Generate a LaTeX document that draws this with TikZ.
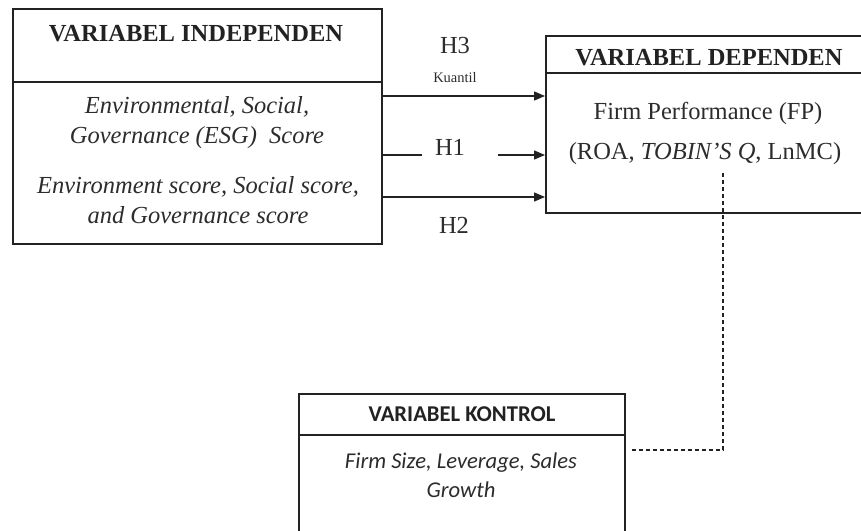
\documentclass[tikz,border=0pt]{standalone}
\usepackage{fontspec}
\setmainfont{Liberation Serif}
\newfontfamily\carlito{Carlito}
\usetikzlibrary{arrows.meta}
\definecolor{ink}{HTML}{222222}
\definecolor{txt}{HTML}{2c2c2c}
\begin{document}
\begin{tikzpicture}[x=1pt,y=-1pt,
  box/.style={draw=ink,line width=1.8pt,inner sep=0pt,anchor=north west},
  serif/.style={font=\fontsize{24.5}{30}\selectfont, text=txt, inner sep=0pt, align=center},
  serifit/.style={font=\fontsize{24.5}{30}\selectfont\itshape, text=txt, inner sep=0pt, align=center},
  sanst/.style={font=\carlito\fontsize{22.6}{29}\selectfont\bfseries, text=ink, inner sep=0pt},
  sansit/.style={font=\carlito\fontsize{22.6}{29}\selectfont\itshape, text=txt, inner sep=0pt, align=center},
  conn/.style={draw=ink,line width=1.3pt},
  arr/.style={conn,-{Triangle[length=11pt,width=9pt]}},
  ctrl/.style={draw=ink,line width=1.2pt,dash pattern=on 4pt off 3pt}]
\path[use as bounding box,clip] (0,0) rectangle (861,530);

% boxes
\node[box,minimum width=369pt,minimum height=73pt] (indh) at (12,8) {};
\node[box,minimum width=369pt,minimum height=162pt] (indb) at (12,81) {};
\node[box,minimum width=330pt,minimum height=37pt] (deph) at (545,35) {};
\node[box,minimum width=330pt,minimum height=140pt] (depb) at (545,72) {};
\node[box,minimum width=326pt,minimum height=41pt] (konh) at (298,393) {};
\node[box,minimum width=326pt,minimum height=130pt] (konb) at (298,434) {};

% texts
\node[serif,font=\fontsize{24.5}{30}\selectfont\bfseries,text=ink] (indt) at (196,34) {VARIABEL INDEPENDEN};
\node[serifit] (esg) at (197,123) {Environmental, Social,\\Governance (ESG)~~Score};
\node[serifit] (pil) at (198,200) {Environment score, Social score,\\and Governance score};

\node[serif,font=\fontsize{24.5}{30}\selectfont\bfseries,text=ink] (dept) at (709,58) {VARIABEL DEPENDEN};
\node[serif] (fp) at (708,113) {Firm Performance (FP)};
\node[serif] (roa) at (705,154) {(ROA, \textit{TOBIN'S Q}, LnMC)};

\node[sanst] (kont) at (462,414) {VARIABEL KONTROL};
\node[sansit] (kvar) at (461,475) {Firm Size, Leverage, Sales\\Growth};

% hypothesis labels
\node[serif,anchor=base] (h3) at (455,53) {H3};
\node[serif,font=\fontsize{14.5}{16}\selectfont,anchor=base] (kuantil) at (455,82) {Kuantil};
\node[serif,anchor=base] (h1) at (450,155) {H1};
\node[serif,anchor=base] (h2) at (454,233) {H2};

% connectors
\draw[arr] (indb.east |- 0,96) -- (depb.west |- 0,96);
\coordinate (h1a) at (422,155);
\coordinate (h1b) at (498,155);
\draw[conn] (indb.east |- h1a) -- (h1a);
\draw[arr] (h1b) -- (depb.west |- h1b);
\draw[arr] (indb.east |- 0,197) -- (depb.west |- 0,197);

% control link
\coordinate (cturn) at (723,450);
\coordinate (ctop) at (723,172);
\draw[ctrl] ([xshift=6pt]konb.east |- cturn) -- (cturn) -- (ctop);
\end{tikzpicture}
\end{document}
